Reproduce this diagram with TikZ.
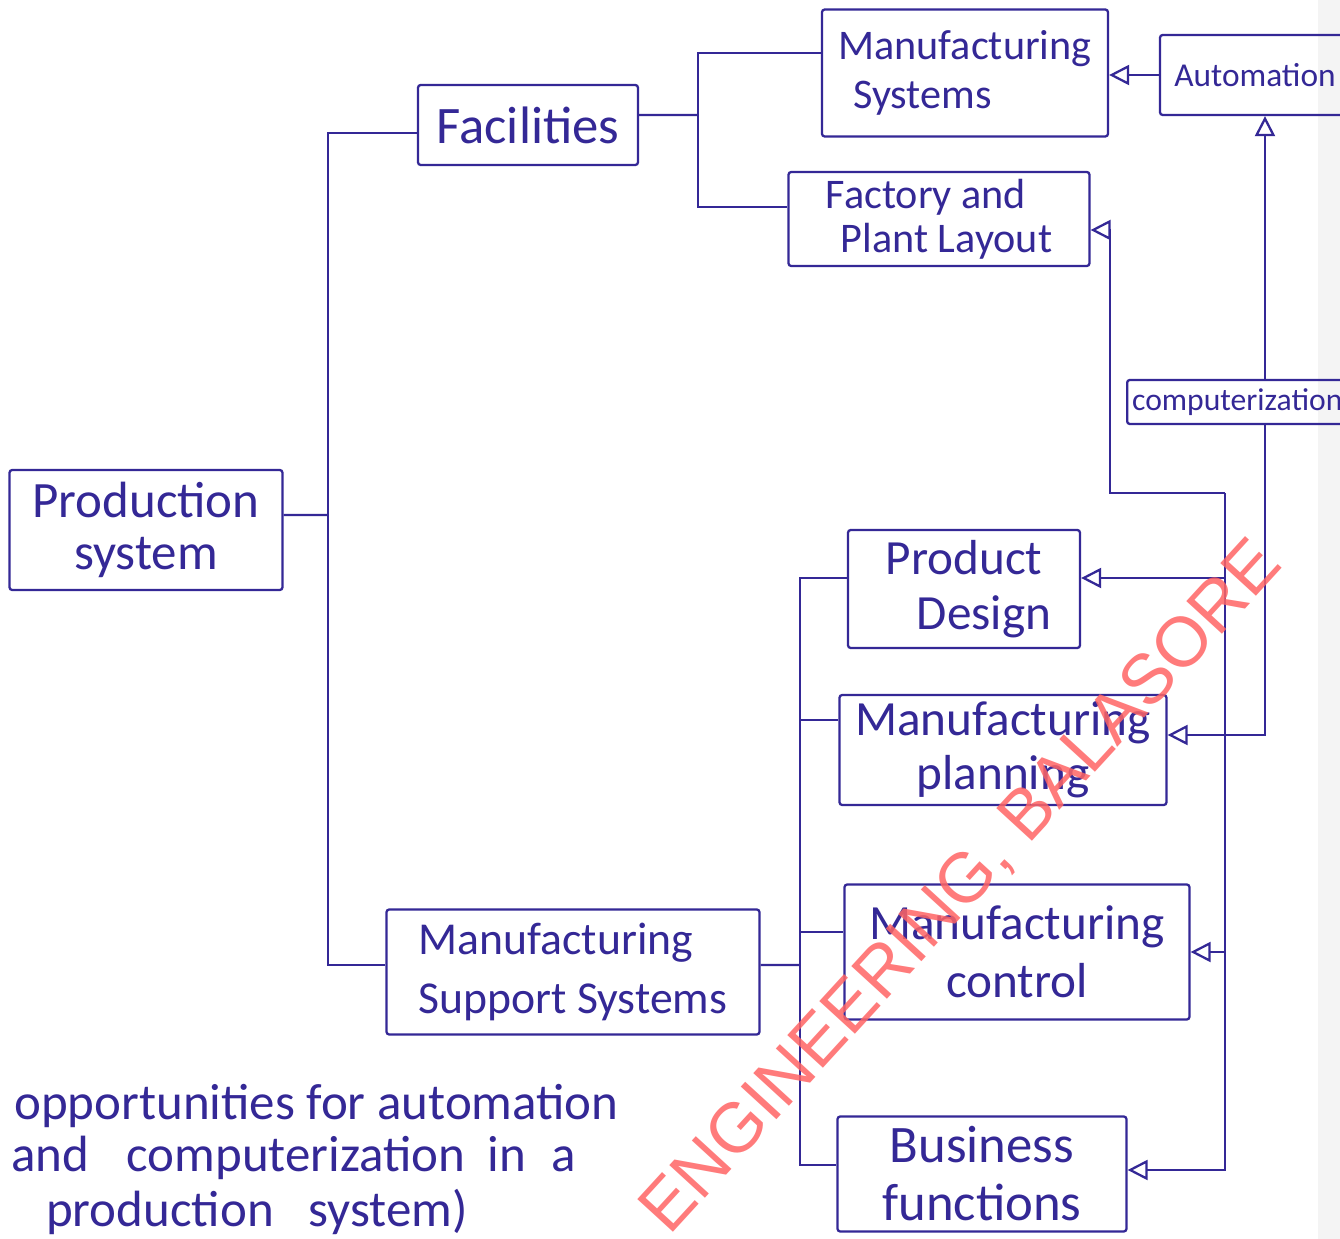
\documentclass[tikz,border=0pt]{standalone}
\usepackage{fontspec}
\setmainfont{Carlito}
\newfontfamily\markfont{Liberation Sans}
\usetikzlibrary{arrows.meta}
\definecolor{ink}{RGB}{52,40,150}
\definecolor{stamp}{RGB}{255,100,100}
\begin{document}
\begin{tikzpicture}[x=0.02cm,y=-0.02cm,
  box/.style={draw=ink, line width=1.3pt, inner sep=2pt, text=ink, align=center, rounded corners=1.5pt},
  wire/.style={draw=ink, line width=1.3pt},
  feed/.style={wire, -{Triangle[open,length=0.4cm,width=0.4cm]}},
  note/.style={anchor=base west, text=ink, font=\fontsize{29}{32}\selectfont},
  fs/.style 2 args={font=\fontsize{#1}{#2}\selectfont}]
\useasboundingbox (0,0) rectangle (1340,1239);
\clip (0,0) rectangle (1340,1239);
\fill[white] (0,0) rectangle (1340,1239);
\fill[gray!9] (1318,0) rectangle (1340,1239);

% blocks
\node[box, fs={29}{30}, minimum width=5.46cm, minimum height=2.4cm] (prod) at (146,530) {Production\\system};
\node[box, fs={30}{32}, minimum width=4.4cm, minimum height=1.6cm] (fac) at (528,125) {Facilities};
\node[box, fs={24}{28}, align=left, minimum width=5.72cm, minimum height=2.54cm] (ms) at (965,73) {Manufacturing\\\hspace*{0.3cm}Systems};
\node[box, fs={19}{22}, minimum width=3.8cm, minimum height=1.6cm] (auto) at (1255,75) {Automation};
\node[box, fs={24}{25}, align=left, minimum width=6.02cm, minimum height=1.88cm] (fpl) at (939,219) {Factory and\\\hspace*{0.3cm}Plant Layout};
\node[box, fs={18}{20}, anchor=west, minimum width=4.5cm, minimum height=0.88cm, text width=4.3cm, align=left] (comp) at (1126,402) {computerization};
\node[box, fs={28}{31}, minimum width=4.64cm, minimum height=2.36cm] (pd) at (964,589) {Product\\\hspace*{0.8cm}Design};
\node[box, fs={28}{31}, minimum width=6.54cm, minimum height=2.2cm] (mp) at (1003,750) {Manufacturing\\planning};
\node[box, fs={28}{33}, minimum width=6.9cm, minimum height=2.7cm] (mc) at (1017,952) {Manufacturing\\control};
\node[box, fs={30}{33}, minimum width=5.78cm, minimum height=2.3cm] (bf) at (982,1174) {Business\\functions};
\node[box, fs={26}{34}, align=left, minimum width=7.46cm, minimum height=2.5cm] (mss) at (573,972) {Manufacturing\\Support Systems};

% attachment points on the block edges
\coordinate (prodR) at ([yshift=0.3cm]prod.east);
\coordinate (facL) at ([yshift=-0.16cm]fac.west);
\coordinate (facR) at ([yshift=0.2cm]fac.east);
\coordinate (msL) at ([yshift=0.4cm]ms.west);
\coordinate (fplL) at ([yshift=0.24cm]fpl.west);
\coordinate (fplR) at ([yshift=-0.22cm]fpl.east);
\coordinate (mssL) at ([yshift=0.14cm]mss.west);
\coordinate (mssR) at ([yshift=0.14cm]mss.east);
\coordinate (pdL) at ([yshift=0.22cm]pd.west);
\coordinate (pdR) at ([yshift=0.22cm]pd.east);
\coordinate (mpL) at ([yshift=0.6cm]mp.west);
\coordinate (mpR) at ([yshift=0.3cm]mp.east);
\coordinate (mcL) at ([yshift=0.4cm]mc.west);
\coordinate (bfL) at ([yshift=0.18cm]bf.west);
\coordinate (bfR) at ([yshift=0.08cm]bf.east);

% production system splits into facilities and support systems
\coordinate (busL) at (328,515);
\draw[wire] (prodR) -- (busL);
\draw[wire] (facL) -| (busL) |- (mssL);

% facilities
\coordinate (busF) at (698,115);
\draw[wire] (facR) -- (busF);
\draw[wire] (msL) -| (busF) |- (fplL);

% support systems
\coordinate (busR) at (800,965);
\draw[wire] (mssR) -- (busR);
\draw[wire] (pdL) -| (busR) |- (bfL);
\draw[wire] (busR |- mpL) -- (mpL);
\draw[wire] (busR |- mcL) -- (mcL);

% automation
\draw[feed] (auto.west) -- (auto.west -| ms.east);
\coordinate (cA) at (1265,735);
\draw[feed] (cA |- comp.north) -- (cA |- auto.south);
\draw[feed] (cA |- comp.south) |- (mpR);

% computerization
\coordinate (cB1) at (1110,493);
\coordinate (cB2) at (1225,493);
\draw[feed] (cB2) -- (cB1) |- (fplR);
\draw[feed] (cB2) |- (bfR);
\draw[feed] (cB2 |- pdR) -- (pdR);
\draw[feed] (cB2 |- mc.east) -- (mc.east);

% caption
\node[note] (cap1) at (8,1120) {opportunities for automation};
\node[note] (cap2) at (5,1172) {and\hspace*{0.75cm}computerization\hspace*{0.45cm}in\hspace*{0.5cm}a};
\node[note] (cap3) at (40,1226) {production\hspace*{0.7cm}system)};

% stamp across the sheet
\node[text=stamp, opacity=0.85, font=\markfont\fontsize{40}{42}\selectfont, rotate=47.5] (mark) at (962,888) {ENGINEERING, BALASORE};
\end{tikzpicture}
\end{document}
